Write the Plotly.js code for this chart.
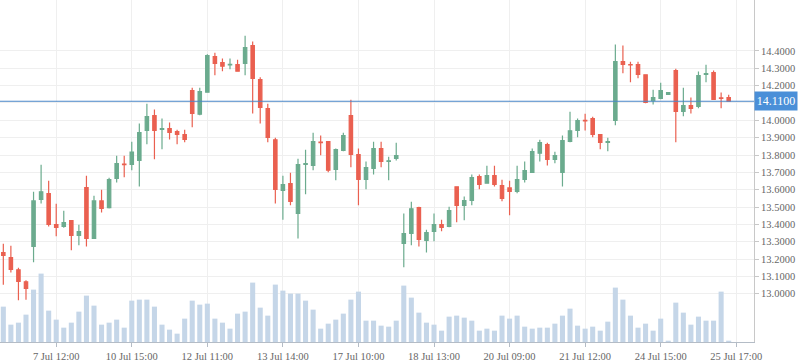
<!DOCTYPE html>
<html>
<head>
<meta charset="utf-8">
<script src="https://cdn.plot.ly/plotly-3.0.1.min.js"></script>
<style>
html,body{margin:0;padding:0;background:#fff;}
#chart{width:798px;height:363px;}
</style>
</head>
<body>
<div id="chart"></div>
<script>
var openP = [13.237,13.208,13.138,13.069,13.273,13.544,13.577,13.398,13.388,13.421,
13.337,13.612,13.319,13.535,13.496,13.665,13.748,13.746,13.769,13.942,
14.027,13.948,13.952,13.935,13.917,14.171,14.035,14.162,14.367,14.333,
14.319,14.321,14.329,14.431,14.235,14.067,13.888,13.596,13.635,13.463,
13.746,13.740,13.875,13.877,13.717,13.827,14.027,13.802,13.660,13.723,
13.837,13.763,13.781,13.290,13.348,13.496,13.308,13.360,13.398,13.388,
13.617,13.510,13.538,13.675,13.637,13.681,13.623,13.610,13.590,13.660,
13.700,13.810,13.860,13.775,13.700,13.879,13.942,14.000,14.010,13.917,
13.873,14.000,14.338,14.321,14.321,14.263,14.113,14.127,14.150,14.287,
14.052,14.085,14.081,14.265,14.275,14.129,14.131];

var closeP = [13.221,13.140,13.071,13.031,13.535,13.588,13.400,13.383,13.410,13.337,
13.358,13.319,13.535,13.492,13.658,13.750,13.744,13.817,13.929,14.021,
13.942,13.952,13.931,13.919,13.890,14.040,14.165,14.373,14.329,14.312,
14.323,14.283,14.419,14.242,14.075,13.902,13.602,13.629,13.533,13.744,
13.750,13.877,13.871,13.712,13.831,13.912,13.804,13.660,13.727,13.837,
13.763,13.767,13.796,13.346,13.490,13.313,13.352,13.398,13.383,13.479,
13.510,13.537,13.669,13.631,13.681,13.631,13.550,13.590,13.658,13.710,
13.819,13.871,13.775,13.796,13.883,13.940,13.998,13.996,13.919,13.873,
13.877,14.338,14.323,14.319,14.265,14.104,14.131,14.171,14.160,14.052,
14.085,14.069,14.258,14.269,14.121,14.127,14.110];

var highP = [13.288,13.277,13.150,13.077,13.588,13.744,13.652,13.519,13.479,13.425,
13.398,13.681,13.565,13.600,13.669,13.796,13.796,13.877,13.981,14.096,
14.062,14.010,13.987,13.946,13.946,14.188,14.188,14.381,14.390,14.356,
14.356,14.350,14.488,14.454,14.248,14.096,13.900,13.681,13.698,13.779,
13.831,13.929,13.912,13.880,13.837,13.929,14.119,13.838,13.762,13.877,
13.877,13.790,13.871,13.462,13.531,13.502,13.369,13.462,13.427,13.502,
13.620,13.560,13.687,13.687,13.738,13.738,13.658,13.652,13.738,13.762,
13.837,13.888,13.871,13.819,13.912,14.050,14.010,14.038,14.021,13.920,
13.900,14.437,14.431,14.338,14.338,14.265,14.177,14.217,14.160,14.298,
14.188,14.131,14.281,14.321,14.287,14.160,14.148];

var lowP = [13.052,13.123,12.962,12.965,13.181,13.521,13.388,13.331,13.381,13.250,
13.279,13.273,13.315,13.469,13.492,13.642,13.671,13.712,13.619,13.862,
13.775,13.833,13.890,13.862,13.873,13.960,14.029,14.160,14.260,14.283,
14.294,14.280,14.260,14.040,13.981,13.873,13.521,13.427,13.510,13.319,
13.573,13.712,13.798,13.700,13.654,13.821,13.729,13.510,13.602,13.688,
13.729,13.654,13.769,13.152,13.279,13.273,13.238,13.302,13.360,13.383,
13.412,13.423,13.510,13.602,13.635,13.619,13.533,13.452,13.579,13.642,
13.700,13.763,13.740,13.752,13.619,13.873,13.902,13.942,13.902,13.833,
13.821,13.971,14.271,14.219,14.242,14.098,14.092,14.121,14.150,13.873,
14.023,14.040,14.069,14.219,14.121,14.069,14.110];

var volume = [106,52,58,82,157,205,94,67,43,58,
91,139,109,52,58,67,43,124,127,127,
106,52,37,25,70,124,112,115,70,58,
40,85,91,178,103,79,172,154,145,145,
124,97,40,55,67,85,127,151,64,64,
49,46,64,169,133,88,58,52,34,76,
79,73,64,34,40,34,79,70,79,46,
40,43,43,55,79,100,49,40,46,34,
61,163,127,79,43,55,34,70,4,118,
88,52,76,64,64,151,4];

var tickPos = [7,17,27,37,47,57,67,77,87,97];
var tickLabels = ["7 Jul 12:00","10 Jul 15:00","12 Jul 11:00","13 Jul 14:00","17 Jul 10:00",
"18 Jul 13:00","20 Jul 09:00","21 Jul 12:00","24 Jul 15:00","25 Jul 17:00"];

var priceTicks = [13.0,13.1,13.2,13.3,13.4,13.5,13.6,13.7,13.8,13.9,14.0,14.1,14.2,14.3,14.4];
var priceTickText = ["13.0000","13.1000","13.2000","13.3000","13.4000","13.5000","13.6000",
"13.7000","13.8000","13.9000","14.0000","","14.2000","14.3000","14.4000"];
var lastPrice = 14.11;

var xIdx = [];
for (var i = 0; i < openP.length; i++) xIdx.push(i);

var volTrace = {
  type: 'bar', x: xIdx, y: volume, yaxis: 'y', xaxis: 'x',
  marker: {color: '#c5d6e8', line: {width: 0}},
  hoverinfo: 'none', showlegend: false
};

var candle = {
  type: 'candlestick', x: xIdx, open: openP, high: highP, low: lowP, close: closeP,
  xaxis: 'x', yaxis: 'y2',
  increasing: {line: {color: '#6bab8e', width: 1.2}, fillcolor: '#6bab8e'},
  decreasing: {line: {color: '#ea6050', width: 1.2}, fillcolor: '#ea6050'},
  whiskerwidth: 0,
  hoverinfo: 'none', showlegend: false
};

var tickFont = {family: 'Liberation Serif, serif', size: 10.5, color: '#666'};

var layout = {
  width: 798, height: 363,
  margin: {l: 0, r: 44, t: 0, b: 21, pad: 0},
  paper_bgcolor: '#fff', plot_bgcolor: '#fff',
  showlegend: false,
  bargap: 0.33,
  boxgap: 0.36,
  hovermode: false,
  xaxis: {
    range: [-0.44, 99.35],
    tickvals: tickPos, ticktext: tickLabels,
    showgrid: true, gridcolor: '#efefef', gridwidth: 1,
    zeroline: false,
    showline: true, linecolor: '#b4bcc6', linewidth: 1,
    ticks: 'outside', ticklen: 4, tickcolor: '#b4bcc6',
    tickfont: tickFont,
    rangeslider: {visible: false},
    fixedrange: true
  },
  yaxis: {
    range: [0, 1025],
    visible: false, showgrid: false, zeroline: false, fixedrange: true
  },
  yaxis2: {
    overlaying: 'y', side: 'right', anchor: 'x',
    range: [12.7215, 14.694],
    tickvals: priceTicks, ticktext: priceTickText,
    showgrid: true, gridcolor: '#efefef', gridwidth: 1,
    zeroline: false,
    showline: true, linecolor: '#c8c8c8', linewidth: 1,
    ticks: 'outside', ticklen: 4, tickcolor: '#c8c8c8',
    tickfont: tickFont,
    fixedrange: true
  },
  shapes: [{
    type: 'line', xref: 'paper', yref: 'y2', x0: 0, x1: 1, y0: lastPrice, y1: lastPrice,
    line: {color: '#4a86c8', width: 1}, layer: 'above'
  }],
  annotations: [{
    xref: 'paper', yref: 'y2', x: 1, y: lastPrice, xanchor: 'left', yanchor: 'middle',
    text: lastPrice.toFixed(4), showarrow: false,
    bgcolor: '#4a8fd8', width: 42, height: 18, borderpad: 0,
    font: {family: 'Liberation Serif, serif', size: 12, color: '#ffffff'}
  }]
};

Plotly.newPlot('chart', [volTrace, candle], layout, {displayModeBar: false, staticPlot: true});
</script>
</body>
</html>
